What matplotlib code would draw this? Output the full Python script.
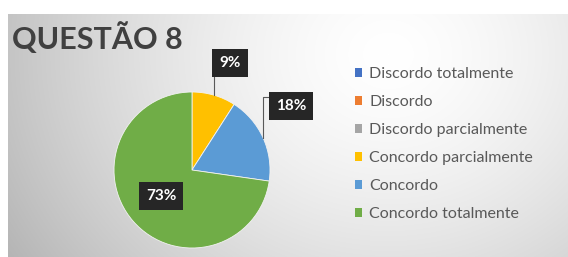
import numpy as np
import matplotlib
matplotlib.use("Agg")
import matplotlib.pyplot as plt
from matplotlib.patches import Patch

categories = ["Discordo totalmente", "Discordo", "Discordo parcialmente",
              "Concordo parcialmente", "Concordo", "Concordo totalmente"]
counts = [0, 0, 0, 1, 2, 8]
colors = ["#4472C4", "#ED7D31", "#A5A5A5", "#FFC000", "#5B9BD5", "#70AD47"]
title = "QUESTÃO 8"

W, H = 568, 257
fig = plt.figure(figsize=(W / 100, H / 100), dpi=100)
fig.patch.set_facecolor("white")

# background gradient panel
bx0, by_top = 8, 14
bg = fig.add_axes([bx0 / W, 0, (W - bx0) / W, (H - by_top) / H])
yy, xx = np.mgrid[0:243, 0:560]
cx, cy = 380, 40
d = np.sqrt(((xx - cx) / 370.0) ** 2 + ((yy - cy) / 320.0) ** 2)
val = 1.0 - 0.22 * np.clip(d, 0, 1.25) ** 1.5
bg.imshow(np.dstack([val, val, val]), aspect="auto", extent=[0, 1, 0, 1])
bg.axis("off")

# pie
pcx, pcy, r = 192, 170, 78
ax = fig.add_axes([(pcx - r) / W, (H - pcy - r) / H, 2 * r / W, 2 * r / H])
total = sum(counts)
vals = [c for c in counts if c > 0]
cols = [colors[i] for i, c in enumerate(counts) if c > 0]
wedges, _ = ax.pie(vals, colors=cols, startangle=90, counterclock=False,
                   radius=1.0, wedgeprops=dict(linewidth=0.6, edgecolor="#f2f2f2"))
ax.set_xlim(-1, 1)
ax.set_ylim(-1, 1)
ax.set_aspect("equal")
ax.axis("off")

def px2d(px, py):
    return (px - pcx) / r, (pcy - py) / r

box = dict(boxstyle="square,pad=0.45", facecolor="#262626", edgecolor="none")
font = dict(family=["Lato", "DejaVu Sans"], weight="bold", color="white", fontsize=11)

pcts = [f"{round(100 * v / total)}%" for v in vals]
mids = [np.deg2rad((w.theta1 + w.theta2) / 2) for w in wedges]

# 9% label
lx, ly = px2d(230, 63)
ex, ey = np.cos(mids[0]), np.sin(mids[0])
ax.plot([ex, ex], [ey, ly - 0.15], color="#595959", lw=0.8, clip_on=False)
ax.text(lx, ly, pcts[0], ha="center", va="center", bbox=box, **font)

# 18% label
lx, ly = px2d(291, 106)
ex, ey = np.cos(mids[1]), np.sin(mids[1])
hy = px2d(0, 97)[1]
bxl = px2d(272, 0)[0]
ax.plot([ex, ex, bxl], [ey, hy, hy], color="#595959", lw=0.8, clip_on=False)
ax.text(lx, ly, pcts[1], ha="center", va="center", bbox=box, **font)

# 73% label
lx, ly = px2d(161, 196)
ax.text(lx, ly, pcts[2], ha="center", va="center", bbox=box, **font)

# title
fig.text(12 / W, 1 - 49 / H, title, ha="left", va="baseline",
         fontsize=22, fontweight="bold", color="#404040",
         family=["Lato", "DejaVu Sans"])

# legend
handles = [Patch(facecolor=c, edgecolor="none") for c in colors]
fig.legend(handles, categories, loc="upper left",
           bbox_to_anchor=(355 / W, 1 - 67 / H), frameon=False,
           prop=dict(family=["Lato", "DejaVu Sans"], size=11.5),
           labelcolor="#595959", handlelength=0.45, handleheight=0.45,
           handletextpad=0.45, labelspacing=0.88, borderaxespad=0, borderpad=0)

fig.savefig("out.png", dpi=100)
